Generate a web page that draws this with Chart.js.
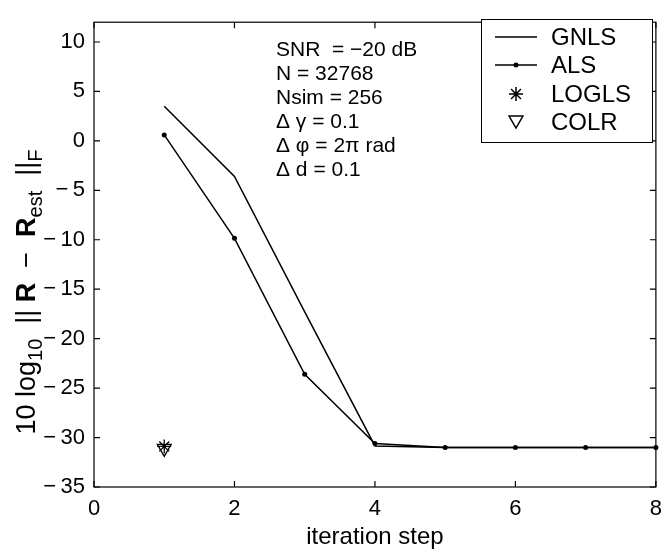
<!DOCTYPE html>
<html>
<head>
<meta charset="utf-8">
<title>Iteration error</title>
<script src="https://cdn.jsdelivr.net/npm/chart.js@4/dist/chart.umd.min.js"></script>
<style>
  html, body { margin: 0; padding: 0; background: #fff; }
  #wrap { width: 671px; height: 552px; position: relative; }
</style>
</head>
<body>
<div id="wrap"><canvas id="errChart"></canvas></div>
<script>
// data
const steps = [1, 2, 3, 4, 5, 6, 7, 8];
const gnlsErr = [3.5, -3.6, -17.3, -30.85, -31.0, -31.0, -31.0, -31.0];
const alsErr = [0.6, -9.85, -23.6, -30.6, -31.0, -31.0, -31.0, -31.0];
const loglsStep = [1];
const loglsErr = [-30.9];
const colrStep = [1];
const colrErr = [-31.1];

const xTicks = [0, 2, 4, 6, 8];
const yTicks = [-35, -30, -25, -20, -15, -10, -5, 0, 5, 10];

const infoLines = [
  'SNR  = \u221220 dB',
  'N = 32768',
  'Nsim = 256',
  '\u0394 \u03b3 = 0.1',
  '\u0394 \u03c6 = 2\u03c0 rad',
  '\u0394 d = 0.1'
];
const legendNames = ['GNLS', 'ALS', 'LOGLS', 'COLR'];

const FONT = '"Liberation Sans", Arial, Helvetica, sans-serif';

function toPoints(xs, ys) {
  return xs.map((x, i) => ({ x: x, y: ys[i] }));
}

// box, inward ticks, legend, annotation and y label
const decorPlugin = {
  id: 'decor',
  afterDraw(chart) {
    const ctx = chart.ctx;
    const a = chart.chartArea;
    const xs = chart.scales.x;
    const ys = chart.scales.y;
    const tl = 6;

    ctx.save();
    ctx.strokeStyle = '#000';
    ctx.lineWidth = 1.2;
    ctx.strokeRect(a.left, a.top, a.right - a.left, a.bottom - a.top);

    ctx.beginPath();
    xTicks.forEach(v => {
      const px = xs.getPixelForValue(v);
      ctx.moveTo(px, a.bottom); ctx.lineTo(px, a.bottom - tl);
      ctx.moveTo(px, a.top); ctx.lineTo(px, a.top + tl);
    });
    yTicks.forEach(v => {
      const py = ys.getPixelForValue(v);
      ctx.moveTo(a.left, py); ctx.lineTo(a.left + tl, py);
      ctx.moveTo(a.right, py); ctx.lineTo(a.right - tl, py);
    });
    ctx.stroke();

    // parameter text block
    ctx.fillStyle = '#000';
    ctx.font = '21px ' + FONT;
    ctx.textAlign = 'left';
    ctx.textBaseline = 'alphabetic';
    infoLines.forEach((t, i) => ctx.fillText(t, 276, 56 + i * 24));

    // legend
    const lx = 481, ly = 19, lw = 171, lh = 123;
    ctx.fillStyle = '#fff';
    ctx.fillRect(lx, ly, lw, lh);
    ctx.lineWidth = 1;
    ctx.strokeRect(lx + 0.5, ly + 0.5, lw, lh);
    const rowY = [37, 65, 94, 122];
    ctx.lineWidth = 1.5;
    ctx.beginPath();
    ctx.moveTo(495, rowY[0]); ctx.lineTo(537, rowY[0]);
    ctx.moveTo(495, rowY[1]); ctx.lineTo(537, rowY[1]);
    ctx.stroke();
    ctx.fillStyle = '#000';
    ctx.beginPath();
    ctx.arc(516, rowY[1], 2.5, 0, Math.PI * 2);
    ctx.fill();
    Chart.helpers.drawPoint(ctx, { pointStyle: 'star', radius: 7, rotation: 0, borderWidth: 1.3 }, 516, rowY[2]);
    ctx.fillStyle = 'rgba(0,0,0,0)';
    Chart.helpers.drawPoint(ctx, { pointStyle: 'triangle', radius: 8, rotation: 180, borderWidth: 1.3 }, 516, rowY[3] - 2);
    ctx.fillStyle = '#000';
    ctx.font = '24px ' + FONT;
    ctx.textBaseline = 'middle';
    legendNames.forEach((n, i) => ctx.fillText(n, 551, rowY[i] + 1));

    // y axis label with bold R and subscripts
    const segs = [
      { t: '10 log' },
      { t: '10', sub: true },
      { t: '  || ' },
      { t: 'R', bold: true },
      { t: '  \u2212  ' },
      { t: 'R', bold: true },
      { t: 'est', sub: true },
      { t: '  ||' },
      { t: 'F', sub: true }
    ];
    const fontOf = s => (s.bold ? 'bold ' : '') + (s.sub ? '20px ' : '27px ') + FONT;
    let total = 0;
    segs.forEach(s => { ctx.font = fontOf(s); s.w = ctx.measureText(s.t).width; total += s.w; });
    ctx.translate(35, 292);
    ctx.rotate(-Math.PI / 2);
    ctx.textBaseline = 'alphabetic';
    let cx = -total / 2;
    segs.forEach(s => {
      ctx.font = fontOf(s);
      ctx.fillText(s.t, cx, s.sub ? 7 : 0);
      cx += s.w;
    });
    ctx.restore();
  }
};

const ctx = document.getElementById('errChart').getContext('2d');
new Chart(ctx, {
  type: 'line',
  data: {
    datasets: [
      {
        label: 'GNLS',
        data: toPoints(steps, gnlsErr),
        borderColor: '#000',
        borderWidth: 1.5,
        pointRadius: 0,
        tension: 0
      },
      {
        label: 'ALS',
        data: toPoints(steps, alsErr),
        borderColor: '#000',
        backgroundColor: '#000',
        borderWidth: 1.5,
        pointRadius: 2.5,
        pointBorderWidth: 0,
        tension: 0,
        clip: 6
      },
      {
        label: 'LOGLS',
        data: toPoints(loglsStep, loglsErr),
        showLine: false,
        borderColor: '#000',
        pointStyle: 'star',
        pointRadius: 7,
        pointBorderWidth: 1.3
      },
      {
        label: 'COLR',
        data: toPoints(colrStep, colrErr),
        showLine: false,
        borderColor: '#000',
        backgroundColor: 'rgba(0,0,0,0)',
        pointStyle: 'triangle',
        pointRotation: 180,
        pointRadius: 8,
        pointBorderWidth: 1.3
      }
    ]
  },
  options: {
    responsive: true,
    maintainAspectRatio: false,
    animation: false,
    layout: { padding: { top: 6, right: 7, left: 0, bottom: 0 } },
    plugins: {
      legend: { display: false },
      tooltip: { enabled: false }
    },
    scales: {
      x: {
        type: 'linear',
        min: 0,
        max: 8,
        afterBuildTicks: s => { s.ticks = xTicks.map(v => ({ value: v })); },
        afterFit: s => { s.height = 65; },
        grid: { display: false, drawTicks: false },
        border: { display: false },
        ticks: { color: '#000', font: { family: FONT, size: 22 }, padding: 9, maxRotation: 0 },
        title: {
          display: true,
          text: 'iteration step',
          color: '#000',
          font: { family: FONT, size: 24 },
          padding: { top: 0, bottom: 0 }
        }
      },
      y: {
        type: 'linear',
        min: -35,
        max: 12,
        afterBuildTicks: s => { s.ticks = yTicks.map(v => ({ value: v })); },
        afterFit: s => { s.width = 94; },
        grid: { display: false, drawTicks: false },
        border: { display: false },
        ticks: {
          color: '#000',
          font: { family: FONT, size: 22 },
          padding: 9,
          callback: v => String(v).replace('-', '\u2212\u2009')
        }
      }
    }
  },
  plugins: [decorPlugin]
});
</script>
</body>
</html>
